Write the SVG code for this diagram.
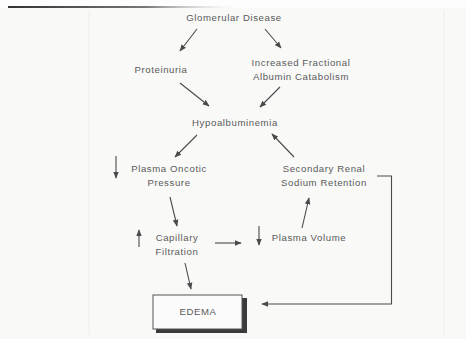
<svg xmlns="http://www.w3.org/2000/svg" width="466" height="339" viewBox="0 0 466 339">
<defs>
<marker id="ah" viewBox="0 0 10 10" refX="9" refY="5" markerWidth="7" markerHeight="7" markerUnits="userSpaceOnUse" orient="auto">
<path d="M0,1 L10,5 L0,9 z" fill="#4a4a4a"/>
</marker>
<linearGradient id="topg" x1="0" y1="0" x2="1" y2="0">
<stop offset="0" stop-color="#333"/>
<stop offset="0.6" stop-color="#777"/>
<stop offset="1" stop-color="#ddd" stop-opacity="0"/>
</linearGradient>
</defs>
<style>
text{font-family:"Liberation Sans",Arial,sans-serif;font-size:9.6px;fill:#5a5a5a;text-anchor:middle;letter-spacing:0.6px}
.c line,.c path{stroke:#4a4a4a;stroke-width:1.1;fill:none}
.a{marker-end:url(#ah)}
</style>
<rect width="466" height="339" fill="#f9f9f8"/>
<rect x="0" y="0" width="466" height="8" fill="#fdfdfd"/>
<rect x="8" y="6" width="230" height="2" fill="url(#topg)"/>
<line x1="89" y1="10" x2="89" y2="335" stroke="#ececec" stroke-width="1"/>
<line x1="444" y1="10" x2="444" y2="335" stroke="#eeeeee" stroke-width="1"/>

<g id="glomerular"><text x="234" y="21">Glomerular Disease</text></g>
<g id="proteinuria"><text x="161" y="73">Proteinuria</text></g>
<g id="catabolism"><text x="301" y="66">Increased Fractional</text><text x="301" y="80">Albumin Catabolism</text></g>
<g id="hypo"><text x="235" y="126">Hypoalbuminemia</text></g>
<g id="oncotic"><text x="169" y="172">Plasma Oncotic</text><text x="169" y="186">Pressure</text></g>
<g id="renal"><text x="324" y="172">Secondary Renal</text><text x="324" y="186">Sodium Retention</text></g>
<g id="capillary"><text x="177" y="241">Capillary</text><text x="177" y="255">Filtration</text></g>
<g id="volume"><text x="309" y="241">Plasma Volume</text></g>
<g id="edema">
<rect x="156" y="298" width="91" height="35" fill="#3a3a3a"/>
<rect x="153" y="295" width="89" height="34" fill="#fbfbfb" stroke="#555" stroke-width="1"/>
<text x="198" y="315">EDEMA</text>
</g>

<g class="c" id="connectors">
<line class="a" x1="197" y1="29" x2="180" y2="51"/>
<line class="a" x1="265" y1="29" x2="281" y2="48"/>
<line class="a" x1="180" y1="83" x2="209" y2="106"/>
<line class="a" x1="280" y1="87" x2="260" y2="107"/>
<line class="a" x1="197" y1="135" x2="175" y2="157"/>
<line class="a" x1="294" y1="157" x2="272" y2="134"/>
<line class="a" x1="116" y1="156" x2="116" y2="178"/>
<line class="a" x1="170" y1="197" x2="177" y2="226"/>
<line class="a" x1="302" y1="228" x2="309" y2="198"/>
<line class="a" x1="139" y1="247" x2="139" y2="230"/>
<line class="a" x1="215" y1="243" x2="241" y2="243"/>
<line class="a" x1="259" y1="226" x2="259" y2="245"/>
<line class="a" x1="185" y1="263" x2="191" y2="289"/>
<path class="a" d="M377,176 H391.5 V304 H262"/>
</g>
</svg>
